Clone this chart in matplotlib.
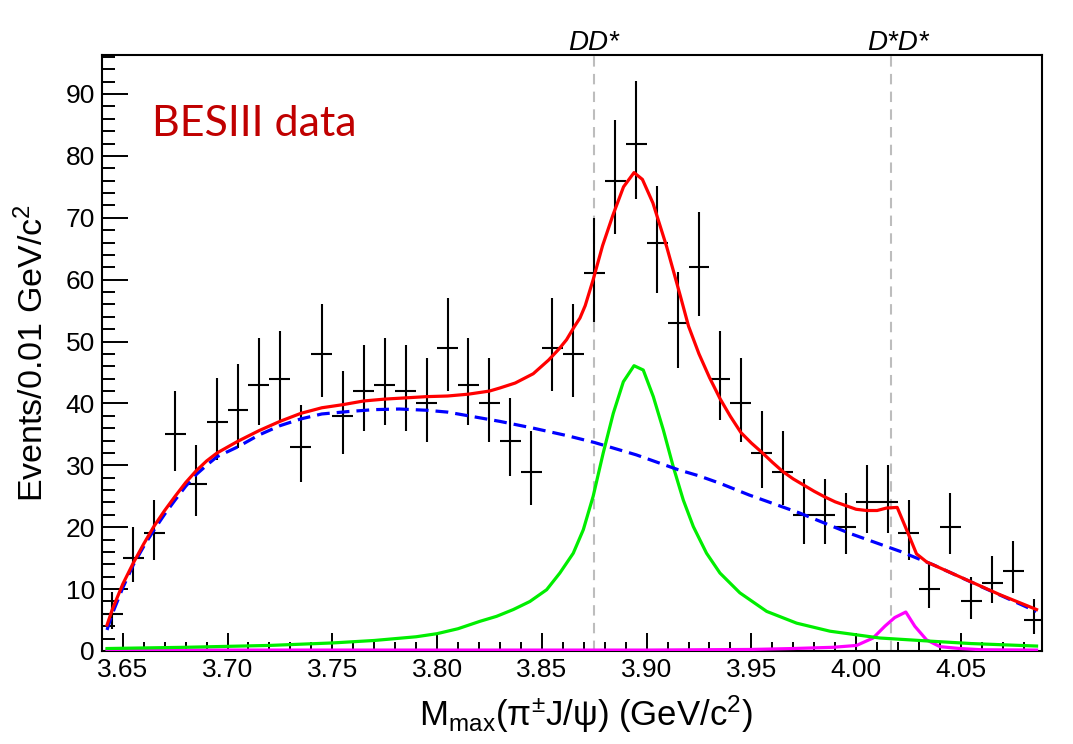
import numpy as np
import matplotlib.pyplot as plt
from matplotlib.ticker import MultipleLocator
from matplotlib.transforms import blended_transform_factory

plt.rcParams["font.family"] = ["Liberation Sans", "DejaVu Sans"]
plt.rcParams["mathtext.fontset"] = "custom"
plt.rcParams["mathtext.rm"] = "Liberation Sans"
plt.rcParams["mathtext.it"] = "Liberation Sans:italic"

# binned data, 0.01 GeV bins from 3.64 to 4.09
mass = np.round(np.arange(3.645, 4.0851, 0.01), 3)
counts = [6, 15, 19, 35, 27, 37, 39, 43, 44, 33,
          48, 38, 42, 43, 42, 40, 49, 43, 40, 34,
          29, 49, 48, 61, 76, 82, 66, 53, 62, 44,
          40, 32, 29, 22, 22, 20, 24, 24, 19, 10,
          20, 8, 11, 13, 5]
err_lo = [2.4, 3.8, 4.3, 5.9, 5.2, 6.1, 6.2, 6.5, 6.6, 5.7,
          6.9, 6.1, 6.5, 6.5, 6.5, 6.3, 7.0, 6.5, 6.3, 5.8,
          5.4, 7.0, 6.9, 7.8, 8.7, 9.0, 8.1, 7.3, 7.9, 6.6,
          6.3, 5.6, 5.4, 4.7, 4.7, 4.4, 4.9, 4.9, 4.3, 3.1,
          4.4, 2.8, 3.3, 3.6, 2.2]
err_hi = [3.6, 5.0, 5.4, 7.0, 6.3, 7.1, 7.3, 7.6, 7.7, 6.8,
          8.0, 7.2, 7.5, 7.6, 7.5, 7.4, 8.1, 7.6, 7.4, 6.9,
          6.5, 8.1, 8.0, 8.9, 9.8, 10.1, 9.2, 8.3, 8.9, 7.7,
          7.4, 6.7, 6.5, 5.8, 5.8, 5.6, 6.0, 6.0, 5.4, 4.3,
          5.6, 4.0, 4.4, 4.7, 3.4]

# total fit (red)
tot_x = [3.6425, 3.645, 3.65, 3.655, 3.66, 3.665, 3.67, 3.675, 3.68, 3.685,
         3.69, 3.695, 3.705, 3.715, 3.725, 3.735, 3.745, 3.755, 3.765, 3.775,
         3.785, 3.795, 3.805, 3.815, 3.825, 3.83, 3.8373, 3.8459, 3.8532, 3.8582,
         3.8618, 3.8655, 3.8682, 3.8707, 3.8745, 3.879, 3.884, 3.889, 3.894, 3.898,
         3.903, 3.9096, 3.916, 3.92, 3.925, 3.93, 3.935, 3.94, 3.945, 3.95,
         3.955, 3.96, 3.965, 3.97, 3.975, 3.98, 3.985, 3.99, 3.995, 4.0,
         4.005, 4.01, 4.0145, 4.0196, 4.0248, 4.0288, 4.0336, 4.0527, 4.0686, 4.0861]
tot_y = [4.2, 6.7, 10.8, 14.2, 17.3, 20.2, 22.7, 25.0, 27.2, 29.1,
         30.7, 32.0, 33.9, 35.6, 37.1, 38.4, 39.3, 39.8, 40.4, 40.7,
         40.9, 41.1, 41.2, 41.5, 42.0, 42.5, 43.3, 44.8, 47.0, 48.8,
         50.3, 52.4, 53.8, 55.8, 60.0, 65.5, 70.5, 75.0, 77.3, 76.2,
         72.4, 65.3, 57.5, 52.5, 48.0, 44.2, 40.8, 37.9, 35.3, 33.6,
         32.1, 30.5, 29.0, 27.8, 26.8, 25.8, 24.9, 24.1, 23.5, 22.9,
         22.7, 22.7, 23.1, 23.2, 19.0, 15.7, 14.4, 11.5, 9.1, 6.7]

# background (blue dashed)
bkg_x = [3.6425, 3.645, 3.65, 3.655, 3.66, 3.665, 3.67, 3.675, 3.68, 3.685,
         3.69, 3.695, 3.705, 3.715, 3.725, 3.735, 3.745, 3.758, 3.770, 3.782,
         3.795, 3.805, 3.815, 3.830, 3.846, 3.862, 3.875, 3.895, 3.915, 3.925,
         3.935, 3.949, 3.973, 3.997, 4.021, 4.037, 4.061, 4.086]
bkg_y = [3.4, 6.0, 10.2, 13.9, 16.9, 19.6, 22.1, 24.4, 26.6, 28.5,
         30.0, 31.4, 33.0, 34.9, 36.4, 37.5, 38.3, 38.7, 39.0, 39.1,
         38.9, 38.6, 38.0, 37.1, 36.0, 34.8, 33.7, 31.7, 29.3, 28.3,
         27.1, 25.2, 22.3, 19.0, 16.1, 13.9, 10.2, 6.4]

# Zc(3900) signal (green)
sig_x = [3.6425, 3.68, 3.72, 3.75, 3.77, 3.79, 3.80, 3.81, 3.8205, 3.8284,
         3.8364, 3.8443, 3.8523, 3.8586, 3.8650, 3.8698, 3.8745, 3.8793, 3.8841, 3.8889,
         3.8940, 3.8984, 3.9032, 3.9080, 3.9127, 3.9175, 3.9223, 3.9286, 3.9350, 3.9445,
         3.9573, 3.9716, 3.9875, 4.0113, 4.035, 4.055, 4.0861]
sig_y = [0.4, 0.6, 0.9, 1.3, 1.7, 2.3, 2.8, 3.6, 4.8, 5.6,
         6.7, 8.0, 9.9, 12.6, 15.8, 19.6, 25.0, 32.0, 38.4, 43.5,
         46.1, 45.4, 41.1, 35.7, 29.8, 24.4, 20.1, 15.8, 12.6, 9.4,
         6.4, 4.5, 3.2, 2.1, 1.6, 1.2, 0.8]

# D*D* component (magenta)
dst_x = [3.6425, 3.90, 3.95, 3.97, 3.989, 4.0002, 4.0081, 4.0137, 4.0184, 4.0237,
         4.028, 4.0336, 4.04, 4.0495, 4.06, 4.0861]
dst_y = [0.15, 0.15, 0.25, 0.4, 0.6, 0.9, 2.1, 4.0, 5.4, 6.3,
         4.0, 1.8, 0.7, 0.4, 0.2, 0.15]

thresholds = [3.8749, 4.0166]
threshold_labels = ["DD*", "D*D*"]
label_shift = [0, 7]

fig = plt.figure(figsize=(10.73, 7.44), dpi=100)
ax = fig.add_axes([102 / 1073, 93 / 744, 940 / 1073, 596 / 744])

for thr in thresholds:
    ax.axvline(thr, color="#bdbdbd", lw=1.5, ls=(0, (5, 3.5)), zorder=1)

ax.errorbar(mass, counts, yerr=[err_lo, err_hi], xerr=0.005, fmt="none",
            ecolor="black", elinewidth=1.5, capsize=0, zorder=3)

ax.plot(dst_x, dst_y, color="#ff00ff", lw=2.3, zorder=4)
ax.plot(sig_x, sig_y, color="#00ee00", lw=2.3, zorder=4)
ax.plot(bkg_x, bkg_y, color="#0000ff", lw=2.3, ls=(0, (4, 2.2)), zorder=5)
ax.plot(tot_x, tot_y, color="#ff0000", lw=2.3, zorder=6)

ax.set_xlim(3.6401, 4.0887)
ax.set_ylim(0, 96.3)

ax.xaxis.set_major_locator(MultipleLocator(0.05))
ax.xaxis.set_minor_locator(MultipleLocator(0.01))
ax.yaxis.set_major_locator(MultipleLocator(10))
ax.yaxis.set_minor_locator(MultipleLocator(2))
ax.xaxis.set_major_formatter(plt.FormatStrFormatter("%.2f"))

ax.tick_params(axis="both", which="both", direction="in", top=False, right=False,
               width=1.4, labelsize=19, pad=5)
ax.tick_params(axis="y", which="major", length=19)
ax.tick_params(axis="y", which="minor", length=9.5)
ax.tick_params(axis="x", which="major", length=13)
ax.tick_params(axis="x", which="minor", length=6.5)
for sp in ax.spines.values():
    sp.set_linewidth(1.5)

ax.set_ylabel("Events/0.01 GeV/c$^{2}$", fontsize=24.5)
ax.yaxis.set_label_coords(-0.055, 0.5)
ax.set_xlabel(r"M$_{\mathrm{max}}$($\mathrm{π}^{\pm}$J/$\mathrm{ψ}$) (GeV/c$^{2}$)",
              fontsize=25)
ax.xaxis.set_label_coords(0.515, -0.072)

ax.text(0.053, 0.864, "BESIII data", transform=ax.transAxes, fontsize=31,
        color="#c00000", family="Lato", va="baseline")

trans = blended_transform_factory(ax.transData, ax.transAxes)
for thr, lab, dx in zip(thresholds, threshold_labels, label_shift):
    ax.annotate(lab, xy=(thr, 1.0), xycoords=trans, xytext=(dx, 5),
                textcoords="offset pixels", ha="center", va="baseline",
                fontsize=20, style="italic")

fig.savefig("out.png", dpi=100)
